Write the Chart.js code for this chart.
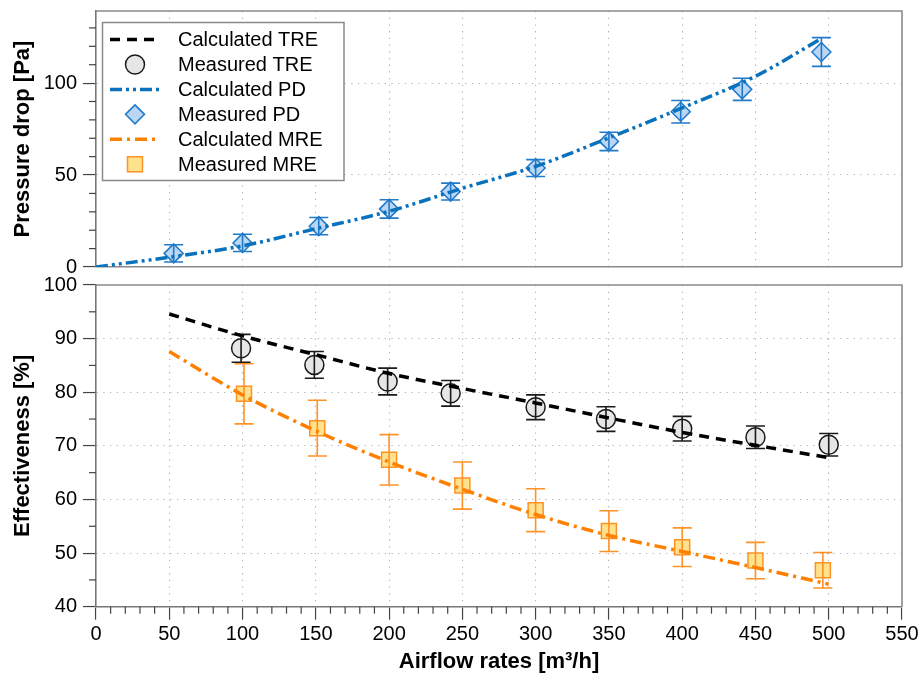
<!DOCTYPE html>
<html><head><meta charset="utf-8">
<script src="https://cdn.jsdelivr.net/npm/chart.js@4.4.1/dist/chart.umd.min.js"></script>
<style>
html,body{margin:0;padding:0;background:#fff;}
#wrap{position:relative;width:922px;height:677px;overflow:hidden;background:#fff;}
canvas{position:absolute;left:0;}
#top{top:0;}
#bot{top:270px;}
</style></head><body>
<div id="wrap"><canvas id="bot" width="922" height="407"></canvas><canvas id="top" width="922" height="280"></canvas></div>
<script>
// ---------- data ----------
const legendLabels = ['Calculated TRE','Measured TRE','Calculated PD','Measured PD','Calculated MRE','Measured MRE'];

const pdCalcX = [0, 50, 100, 150, 200, 250, 300, 350, 400, 450, 495];
const pdCalcY = [0, 5.3, 11.5, 20.8, 30.3, 42.8, 54.7, 70.2, 86.5, 103.7, 124.2];
const pdMeasX = [53, 100, 152, 200, 242, 300, 350, 399, 441, 495];
const pdMeasY = [7.4, 13.1, 22.2, 31.6, 41.0, 53.8, 68.3, 84.4, 96.6, 116.9];
const pdErr   = [4.7, 4.7, 4.7, 5.0, 4.6, 4.6, 5.0, 6.1, 6.0, 7.8];

const treCalcX = [50, 100, 150, 200, 250, 300, 350, 400, 450, 500];
const treCalcY = [94.6, 90.5, 87.0, 83.5, 80.7, 78.0, 75.2, 72.5, 70.1, 67.8];
const treMeasX = [99, 149, 199, 242, 300, 348, 400, 450, 500];
const treMeasY = [88.2, 85.1, 82.0, 79.8, 77.2, 75.0, 73.2, 71.6, 70.2];
const treErr   = [2.6, 2.5, 2.5, 2.4, 2.3, 2.3, 2.3, 2.1, 2.1];

const mreCalcX = [50, 100, 150, 200, 250, 300, 350, 400, 450, 500];
const mreCalcY = [87.6, 79.5, 72.8, 67.0, 61.9, 57.2, 53.3, 50.3, 47.3, 44.2];
const mreMeasX = [101, 151, 200, 250, 300, 350, 400, 450, 496];
const mreMeasY = [79.7, 73.3, 67.4, 62.6, 58.0, 54.1, 51.1, 48.6, 46.8];
const mreErr   = [5.6, 5.2, 4.7, 4.4, 4.0, 3.8, 3.6, 3.4, 3.3];

const xMin = 0, xMax = 550, xStep = 50, xMinor = 10;
const pdMin = 0, pdMax = 139.2, pdStep = 50, pdMinor = 10;
const effMin = 40, effMax = 100, effStep = 10, effMinor = 5;

// ---------- styles ----------
const FONT = '"Liberation Sans", Arial, Helvetica, sans-serif';
const AXIS = '#777', TICK = '#444', GRID = '#b4b4b4', BOX = '#8a8a8a';
const BLACK = '#000000';
const BLUE = '#0A72BC', BLUE_EDGE = '#2079C9', BLUE_FILL = '#B9D6F5';
const ORANGE = '#FF8000', ORANGE_EDGE = '#FF9226', ORANGE_FILL = '#FFE28C';
const GREY_FILL = '#E6E6E6', GREY_EDGE = '#1a1a1a';
const DASH_TRE = [10, 7], DASH_PD = [12, 4, 3, 4, 3, 4], DASH_MRE = [12, 5, 3, 5];
const GRID_DASH = [1.3, 5.4];

const pts = (xs, ys) => xs.map((x, i) => ({x, y: ys[i]}));

// ---------- plugins ----------
const errorBars = {
  id: 'errorBars',
  afterDatasetDraw(chart, args) {
    const ds = chart.data.datasets[args.index];
    if (!ds.errors) return;
    const xs = chart.scales.x, ys = chart.scales.y, ctx = chart.ctx;
    ctx.save();
    ctx.strokeStyle = ds.errColor; ctx.lineWidth = 1.6; ctx.setLineDash([]);
    ds.data.forEach((p, i) => {
      const e = ds.errors[i];
      const px = xs.getPixelForValue(p.x);
      const y1 = ys.getPixelForValue(p.y + e), y2 = ys.getPixelForValue(p.y - e);
      const h = 9.5;
      ctx.beginPath();
      ctx.moveTo(px, y1); ctx.lineTo(px, y2);
      ctx.moveTo(px - h, y1); ctx.lineTo(px + h, y1);
      ctx.moveTo(px - h, y2); ctx.lineTo(px + h, y2);
      ctx.stroke();
    });
    ctx.restore();
  }
};

function minorTicks(specs) {
  return {
    id: 'minorTicks',
    afterDraw(chart) {
      const ctx = chart.ctx;
      ctx.save(); ctx.strokeStyle = TICK; ctx.lineWidth = 1.2; ctx.setLineDash([]);
      specs.forEach(sp => {
        const s = chart.scales[sp.axis];
        const k0 = Math.ceil(s.min / sp.step - 1e-9), k1 = Math.floor(s.max / sp.step + 1e-9);
        for (let k = k0; k <= k1; k++) {
          const v = k * sp.step;
          const r = v / sp.major;
          if (Math.abs(r - Math.round(r)) < 1e-9) continue;
          const p = s.getPixelForValue(v);
          ctx.beginPath();
          if (s.isHorizontal()) { ctx.moveTo(p, s.top); ctx.lineTo(p, s.top + sp.len); }
          else { ctx.moveTo(s.right, p); ctx.lineTo(s.right - sp.len, p); }
          ctx.stroke();
        }
      });
      ctx.restore();
    }
  };
}

const boxPlugin = {
  id: 'box',
  afterDraw(chart) {
    const a = chart.chartArea, ctx = chart.ctx;
    ctx.save(); ctx.strokeStyle = BOX; ctx.lineWidth = 1.6; ctx.setLineDash([]);
    ctx.beginPath();
    ctx.moveTo(a.left, a.top); ctx.lineTo(a.right, a.top); ctx.lineTo(a.right, a.bottom);
    ctx.stroke();
    ctx.restore();
  }
};

const legendPlugin = {
  id: 'customLegend',
  afterDraw(chart) {
    const ctx = chart.ctx;
    const bx = 102.5, by = 22.5, bw = 241.5, bh = 158;
    ctx.save();
    ctx.fillStyle = '#fff'; ctx.fillRect(bx, by, bw, bh);
    ctx.strokeStyle = BOX; ctx.lineWidth = 1.5; ctx.strokeRect(bx, by, bw, bh);
    const sx = 135, tx = 178, y0 = 39.5, dy = 24.95;
    const drawLine = (y, color, dash) => {
      ctx.save(); ctx.strokeStyle = color; ctx.lineWidth = 3.5; ctx.setLineDash(dash);
      ctx.beginPath(); ctx.moveTo(sx - 25, y); ctx.lineTo(sx + 25, y); ctx.stroke(); ctx.restore();
    };
    const styleMark = (fill, edge) => { ctx.fillStyle = fill; ctx.strokeStyle = edge; ctx.lineWidth = 1.5; ctx.setLineDash([]); };
    drawLine(y0, BLACK, DASH_TRE);
    let y = y0 + dy;
    styleMark(GREY_FILL, GREY_EDGE); ctx.beginPath(); ctx.arc(sx, y, 9.5, 0, Math.PI * 2); ctx.fill(); ctx.stroke();
    drawLine(y0 + 2 * dy, BLUE, DASH_PD);
    y = y0 + 3 * dy;
    styleMark(BLUE_FILL, BLUE_EDGE); ctx.beginPath();
    ctx.moveTo(sx, y - 9.5); ctx.lineTo(sx + 9.5, y); ctx.lineTo(sx, y + 9.5); ctx.lineTo(sx - 9.5, y); ctx.closePath(); ctx.fill(); ctx.stroke();
    drawLine(y0 + 4 * dy, ORANGE, DASH_MRE);
    y = y0 + 5 * dy;
    styleMark(ORANGE_FILL, ORANGE_EDGE); ctx.beginPath(); ctx.rect(sx - 7.5, y - 7.5, 15, 15); ctx.fill(); ctx.stroke();
    ctx.fillStyle = '#000'; ctx.font = '20px ' + FONT; ctx.textBaseline = 'middle'; ctx.textAlign = 'left';
    legendLabels.forEach((t, i) => ctx.fillText(t, tx, y0 + i * dy + 1));
    ctx.restore();
  }
};

const gridFn = (lo, hi) => (c) => {
  const v = c.tick ? c.tick.value : null;
  return (v === null || Math.abs(v - lo) < 1e-6 || Math.abs(v - hi) < 1e-6) ? 'rgba(0,0,0,0)' : GRID;
};
const tickFont = {family: FONT, size: 20};
const titleFont = {family: FONT, size: 22, weight: 'bold'};

// ---------- top chart ----------
new Chart(document.getElementById('top'), {
  type: 'line',
  data: { datasets: [
    { label: 'Calculated PD', data: pts(pdCalcX, pdCalcY), borderColor: BLUE, borderWidth: 3.5, borderDash: DASH_PD,
      pointRadius: 0, fill: false, cubicInterpolationMode: 'monotone' },
    { label: 'Measured PD', data: pts(pdMeasX, pdMeasY), showLine: false, pointStyle: 'rectRot', pointRadius: 9.5,
      pointBackgroundColor: BLUE_FILL, pointBorderColor: BLUE_EDGE, pointBorderWidth: 1.5,
      errors: pdErr, errColor: BLUE_EDGE }
  ]},
  options: {
    responsive: false, animation: false, events: [],
    layout: {padding: {left: 0, right: 20, top: 8, bottom: 0}},
    plugins: {legend: {display: false}, tooltip: {enabled: false}},
    scales: {
      x: { type: 'linear', min: xMin, max: xMax,
        ticks: {display: false, stepSize: xStep},
        grid: {color: gridFn(xMin, xMax), drawTicks: false, lineWidth: 1.1},
        border: {display: true, color: BOX, width: 1.6, dash: GRID_DASH},
        afterFit(s) { s.height = 13; s.paddingLeft = 0; s.paddingRight = 0; } },
      y: { type: 'linear', min: pdMin, max: pdMax,
        ticks: {stepSize: pdStep, includeBounds: false, font: tickFont, color: '#000', padding: 6},
        grid: {color: gridFn(pdMin, pdMax), tickLength: 13, tickColor: TICK, tickWidth: 1.2, lineWidth: 1.1},
        border: {display: true, color: AXIS, width: 1.6, dash: GRID_DASH},
        title: {display: true, text: 'Pressure drop [Pa]', font: titleFont, color: '#000', padding: {top: 10, bottom: 0}},
        afterFit(s) { s.width = 96; s.paddingTop = 0; s.paddingBottom = 0; } }
    }
  },
  plugins: [errorBars, minorTicks([{axis: 'y', step: pdMinor, major: pdStep, len: 7}]), boxPlugin, legendPlugin]
});

// ---------- bottom chart ----------
new Chart(document.getElementById('bot'), {
  type: 'line',
  data: { datasets: [
    { label: 'Calculated TRE', data: pts(treCalcX, treCalcY), borderColor: BLACK, borderWidth: 3.5, borderDash: DASH_TRE,
      pointRadius: 0, fill: false, cubicInterpolationMode: 'monotone' },
    { label: 'Calculated MRE', data: pts(mreCalcX, mreCalcY), borderColor: ORANGE, borderWidth: 3.5, borderDash: DASH_MRE,
      pointRadius: 0, fill: false, cubicInterpolationMode: 'monotone' },
    { label: 'Measured TRE', data: pts(treMeasX, treMeasY), showLine: false, pointStyle: 'circle', pointRadius: 9.5,
      pointBackgroundColor: GREY_FILL, pointBorderColor: GREY_EDGE, pointBorderWidth: 1.5,
      errors: treErr, errColor: GREY_EDGE },
    { label: 'Measured MRE', data: pts(mreMeasX, mreMeasY), showLine: false, pointStyle: 'rect', pointRadius: 10.6,
      pointBackgroundColor: ORANGE_FILL, pointBorderColor: ORANGE_EDGE, pointBorderWidth: 1.5,
      errors: mreErr, errColor: ORANGE_EDGE }
  ]},
  options: {
    responsive: false, animation: false, events: [],
    layout: {padding: {left: 0, right: 20, top: 15, bottom: 0}},
    plugins: {legend: {display: false}, tooltip: {enabled: false}},
    scales: {
      x: { type: 'linear', min: xMin, max: xMax,
        ticks: {stepSize: xStep, font: tickFont, color: '#000', padding: 3, maxRotation: 0},
        grid: {color: gridFn(xMin, xMax), tickLength: 13, tickColor: TICK, tickWidth: 1.2, lineWidth: 1.1},
        border: {display: true, color: AXIS, width: 1.6, dash: GRID_DASH},
        title: {display: true, text: 'Airflow rates [m³/h]', font: titleFont, color: '#000', padding: {top: 0, bottom: 2}},
        afterFit(s) { s.height = 70.3; s.paddingLeft = 0; s.paddingRight = 0; } },
      y: { type: 'linear', min: effMin, max: effMax,
        ticks: {stepSize: effStep, font: tickFont, color: '#000', padding: 6},
        grid: {color: gridFn(effMin, effMax), tickLength: 13, tickColor: TICK, tickWidth: 1.2, lineWidth: 1.1},
        border: {display: true, color: AXIS, width: 1.6, dash: GRID_DASH},
        title: {display: true, text: 'Effectiveness [%]', font: titleFont, color: '#000', padding: {top: 10, bottom: 0}},
        afterFit(s) { s.width = 96; s.paddingTop = 0; s.paddingBottom = 0; } }
    }
  },
  plugins: [errorBars, minorTicks([{axis: 'y', step: effMinor, major: effStep, len: 7}, {axis: 'x', step: xMinor, major: xStep, len: 7}]), boxPlugin]
});
</script>
</body></html>
